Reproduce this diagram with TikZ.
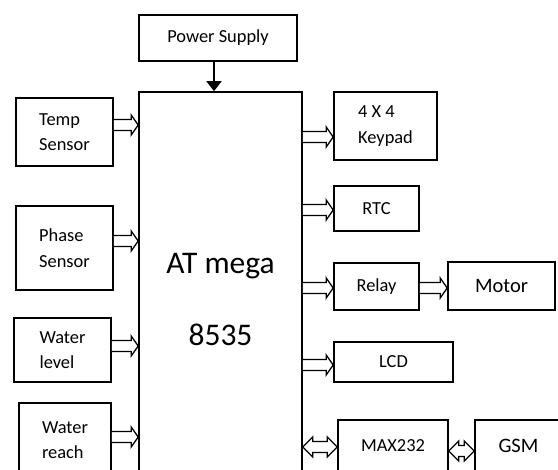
\documentclass[tikz,border=0pt]{standalone}
\usepackage{fontspec}
\setmainfont{Carlito}
\usetikzlibrary{arrows.meta,calc}
% outlined block arrow from node #1 to node #2 at height #3
\newcommand{\hollowarrow}[3]{%
  \draw[hollow] let \p1=(#1.east), \p2=(#2.west), \p3=(0,#3) in
    (\x1,{\y3+5.5pt}) -- ({\x2-7pt},{\y3+5.5pt}) -- ({\x2-7pt},{\y3+10pt}) -- (\x2,\y3)
    -- ({\x2-7pt},{\y3-10pt}) -- ({\x2-7pt},{\y3-5.5pt}) -- (\x1,{\y3-5.5pt});}
\newcommand{\twowayarrow}[3]{%
  \draw[hollow] let \p1=(#1.east), \p2=(#2.west), \p3=(0,#3) in
    (\x1,\y3) -- ({\x1+10pt},{\y3+10pt}) -- ({\x1+10pt},{\y3+5.5pt}) -- ({\x2-10pt},{\y3+5.5pt})
    -- ({\x2-10pt},{\y3+10pt}) -- (\x2,\y3) -- ({\x2-10pt},{\y3-10pt}) -- ({\x2-10pt},{\y3-5.5pt})
    -- ({\x1+10pt},{\y3-5.5pt}) -- ({\x1+10pt},{\y3-10pt}) -- cycle;}

\begin{document}
\begin{tikzpicture}[x=1pt,y=-1pt,
  blk/.style={draw,line width=1.6pt,inner sep=0pt,align=left,font=\fontsize{18.4}{25.5}\selectfont},
  big/.style={font=\fontsize{20.5}{25}\selectfont},
  hollow/.style={draw,line width=1.3pt,fill=white,line join=miter},
  feed/.style={line width=1.8pt,-{Triangle[width=15pt,length=10pt]}}]
  \useasboundingbox (0,0) rectangle (558,470);
  \clip (0,0) rectangle (558,470);
  % controller and supply
  \node[blk,minimum width=158pt,minimum height=46pt] (power) at (218,38) {Power Supply};
  \node[blk,align=center,minimum width=163pt,minimum height=415pt,
        font=\fontsize{31.5}{72}\selectfont] (mcu) at (220.5,299.5) {AT mega\\8535};
  \draw[feed] ([xshift=-4pt]power.south) -- ([xshift=-4pt]power.south |- mcu.north);
  % inputs
  \node[blk,minimum width=97pt,minimum height=68pt] (temp) at (64.5,132) {Temp\\Sensor};
  \node[blk,minimum width=97pt,minimum height=84pt] (phase) at (64.5,248) {Phase\\Sensor};
  \node[blk,minimum width=97pt,minimum height=64pt] (level) at (62.5,350) {Water\\level};
  \node[blk,minimum width=92pt,minimum height=74pt] (reach) at (65,440) {Water\\reach};
  % outputs
  \node[blk,minimum width=103pt,minimum height=68pt] (keypad) at (385.5,126) {4 X 4\\Keypad};
  \node[blk,minimum width=85pt,minimum height=45pt] (rtc) at (376.5,208.5) {RTC};
  \node[blk,minimum width=85pt,minimum height=47pt] (relay) at (376.5,286.5) {Relay};
  \node[blk,big,minimum width=107pt,minimum height=48pt] (motor) at (501.5,286) {Motor};
  \node[blk,minimum width=119pt,minimum height=40pt] (lcd) at (393.5,362) {LCD};
  \node[blk,minimum width=110pt,minimum height=52pt] (max) at (393,446) {MAX232};
  \node[blk,big,minimum width=87pt,minimum height=52pt] (gsm) at (518.5,446) {GSM};
  % links
  \hollowarrow{temp}{mcu}{125}
  \hollowarrow{phase}{mcu}{241}
  \hollowarrow{level}{mcu}{346}
  \hollowarrow{reach}{mcu}{437}
  \hollowarrow{mcu}{keypad}{137}
  \hollowarrow{mcu}{rtc}{210}
  \hollowarrow{mcu}{relay}{288}
  \hollowarrow{relay}{motor}{288}
  \hollowarrow{mcu}{lcd}{365}
  \twowayarrow{mcu}{max}{447}
  \twowayarrow{max}{gsm}{451}
\end{tikzpicture}
\end{document}
